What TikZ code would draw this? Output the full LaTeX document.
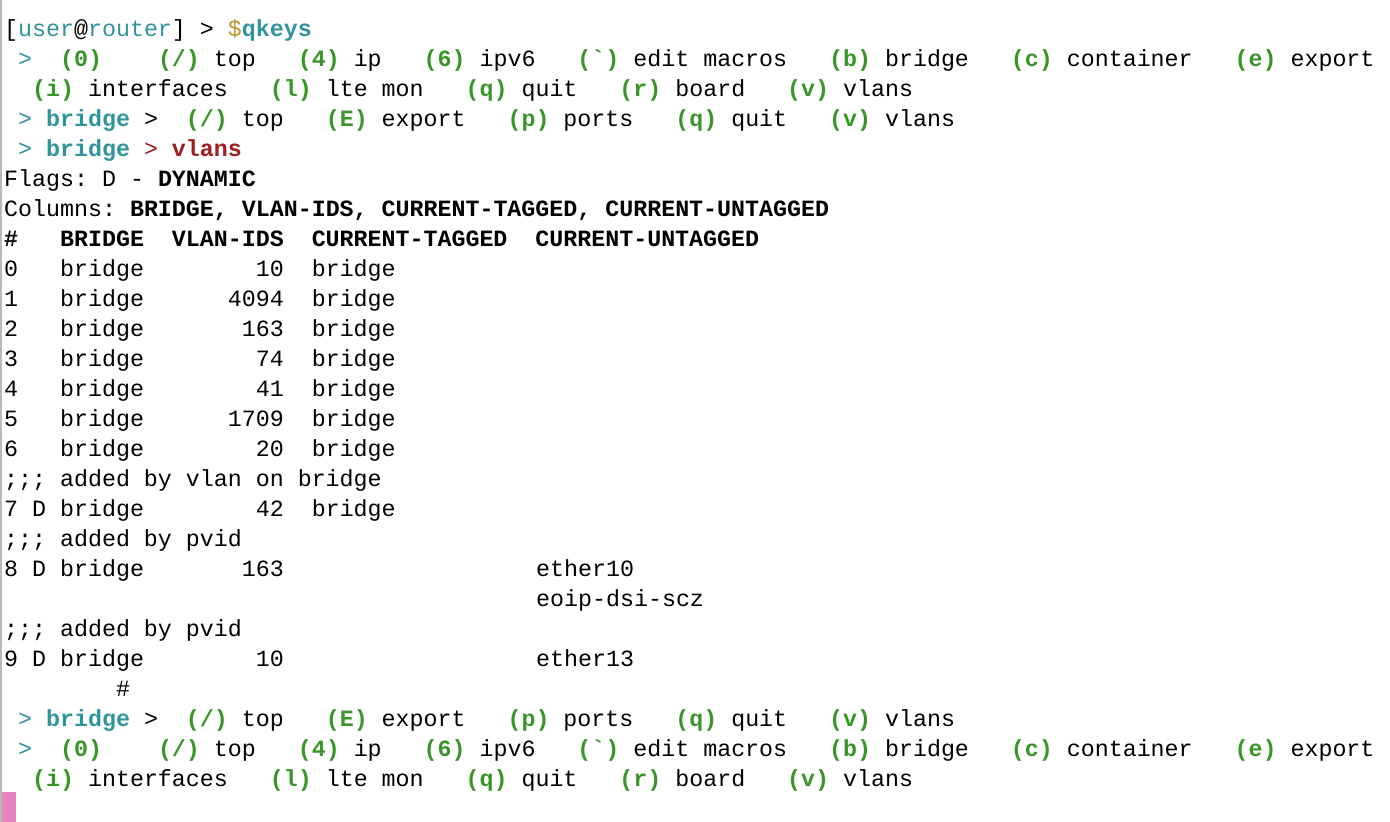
\documentclass[tikz,border=0pt]{standalone}
\usepackage{fontspec}
\setmonofont{Liberation Mono}
\definecolor{keyc}{RGB}{56,150,40}
\definecolor{tealc}{RGB}{48,148,158}
\definecolor{dollarc}{RGB}{186,150,40}
\definecolor{redc}{RGB}{160,30,30}
\definecolor{cursorc}{RGB}{232,132,192}
\newcommand\keyg[1]{\textbf{\textcolor{keyc}{#1}}}
\newcommand\tl[1]{\textcolor{tealc}{#1}}
\newcommand\grv{\char"60\relax}
% one text line: name, column, row, text
\newcommand\tline[4]{\node[txt] (#1) at ({4+14*#2},{36+30*(#3-1)}) {#4};}
\tikzset{
  txt/.style={anchor=base west, inner sep=0pt, font=\ttfamily\fontsize{23.3}{28}\selectfont}
}
\begin{document}
\begin{tikzpicture}[x=1pt,y=-1pt]
	\useasboundingbox (0,0) rectangle (1390,822);
	\fill[white] (0,0) rectangle (1390,822);
	\fill[gray!55] (0,0) rectangle (2,822);

	\tline{prompt}{0}{1}{[\tl{user}@\tl{router}] > \textcolor{dollarc}{\$}\textbf{\tl{qkeys}}}
	\tline{menuA}{0}{2}{~\tl{>}~~\keyg{(0)}~~~~\keyg{(/)} top~~~\keyg{(4)} ip~~~\keyg{(6)} ipv6~~~\keyg{(\grv)} edit macros~~~\keyg{(b)} bridge~~~\keyg{(c)} container~~~\keyg{(e)} export}
	\tline{menuB}{0}{3}{~~\keyg{(i)} interfaces~~~\keyg{(l)} lte mon~~~\keyg{(q)} quit~~~\keyg{(r)} board~~~\keyg{(v)} vlans}
	\tline{brmenu}{0}{4}{~\tl{>} \textbf{\tl{bridge}} >~~\keyg{(/)} top~~~\keyg{(E)} export~~~\keyg{(p)} ports~~~\keyg{(q)} quit~~~\keyg{(v)} vlans}
	\tline{brvlans}{0}{5}{~\tl{>} \textbf{\tl{bridge}} \textcolor{redc}{> \textbf{vlans}}}
	\tline{flags}{0}{6}{Flags: D - \textbf{DYNAMIC}}
	\tline{cols}{0}{7}{Columns: \textbf{BRIDGE, VLAN-IDS, CURRENT-TAGGED, CURRENT-UNTAGGED}}
	\tline{head}{0}{8}{\textbf{\#~~~BRIDGE~~VLAN-IDS~~CURRENT-TAGGED~~CURRENT-UNTAGGED}}

	\tline{rowA}{0}{9}{0~~~bridge~~~~~~~~10~~bridge}
	\tline{rowB}{0}{10}{1~~~bridge~~~~~~4094~~bridge}
	\tline{rowC}{0}{11}{2~~~bridge~~~~~~~163~~bridge}
	\tline{rowD}{0}{12}{3~~~bridge~~~~~~~~74~~bridge}
	\tline{rowE}{0}{13}{4~~~bridge~~~~~~~~41~~bridge}
	\tline{rowF}{0}{14}{5~~~bridge~~~~~~1709~~bridge}
	\tline{rowG}{0}{15}{6~~~bridge~~~~~~~~20~~bridge}
	\tline{cmtA}{0}{16}{;;; added by vlan on bridge}
	\tline{rowH}{0}{17}{7 D bridge~~~~~~~~42~~bridge}
	\tline{cmtB}{0}{18}{;;; added by pvid}
	\tline{rowI}{0}{19}{8 D bridge~~~~~~~163}
	\tline{untI}{38}{19}{ether10}
	\tline{untJ}{38}{20}{eoip-dsi-scz}
	\tline{cmtC}{0}{21}{;;; added by pvid}
	\tline{rowK}{0}{22}{9 D bridge~~~~~~~~10}
	\tline{untK}{38}{22}{ether13}
	\tline{hash}{8}{23}{\#}

	\tline{brmenuB}{0}{24}{~\tl{>} \textbf{\tl{bridge}} >~~\keyg{(/)} top~~~\keyg{(E)} export~~~\keyg{(p)} ports~~~\keyg{(q)} quit~~~\keyg{(v)} vlans}
	\tline{menuC}{0}{25}{~\tl{>}~~\keyg{(0)}~~~~\keyg{(/)} top~~~\keyg{(4)} ip~~~\keyg{(6)} ipv6~~~\keyg{(\grv)} edit macros~~~\keyg{(b)} bridge~~~\keyg{(c)} container~~~\keyg{(e)} export}
	\tline{menuD}{0}{26}{~~\keyg{(i)} interfaces~~~\keyg{(l)} lte mon~~~\keyg{(q)} quit~~~\keyg{(r)} board~~~\keyg{(v)} vlans}

	\fill[cursorc] (2,792) rectangle (16,822);
\end{tikzpicture}
\end{document}
